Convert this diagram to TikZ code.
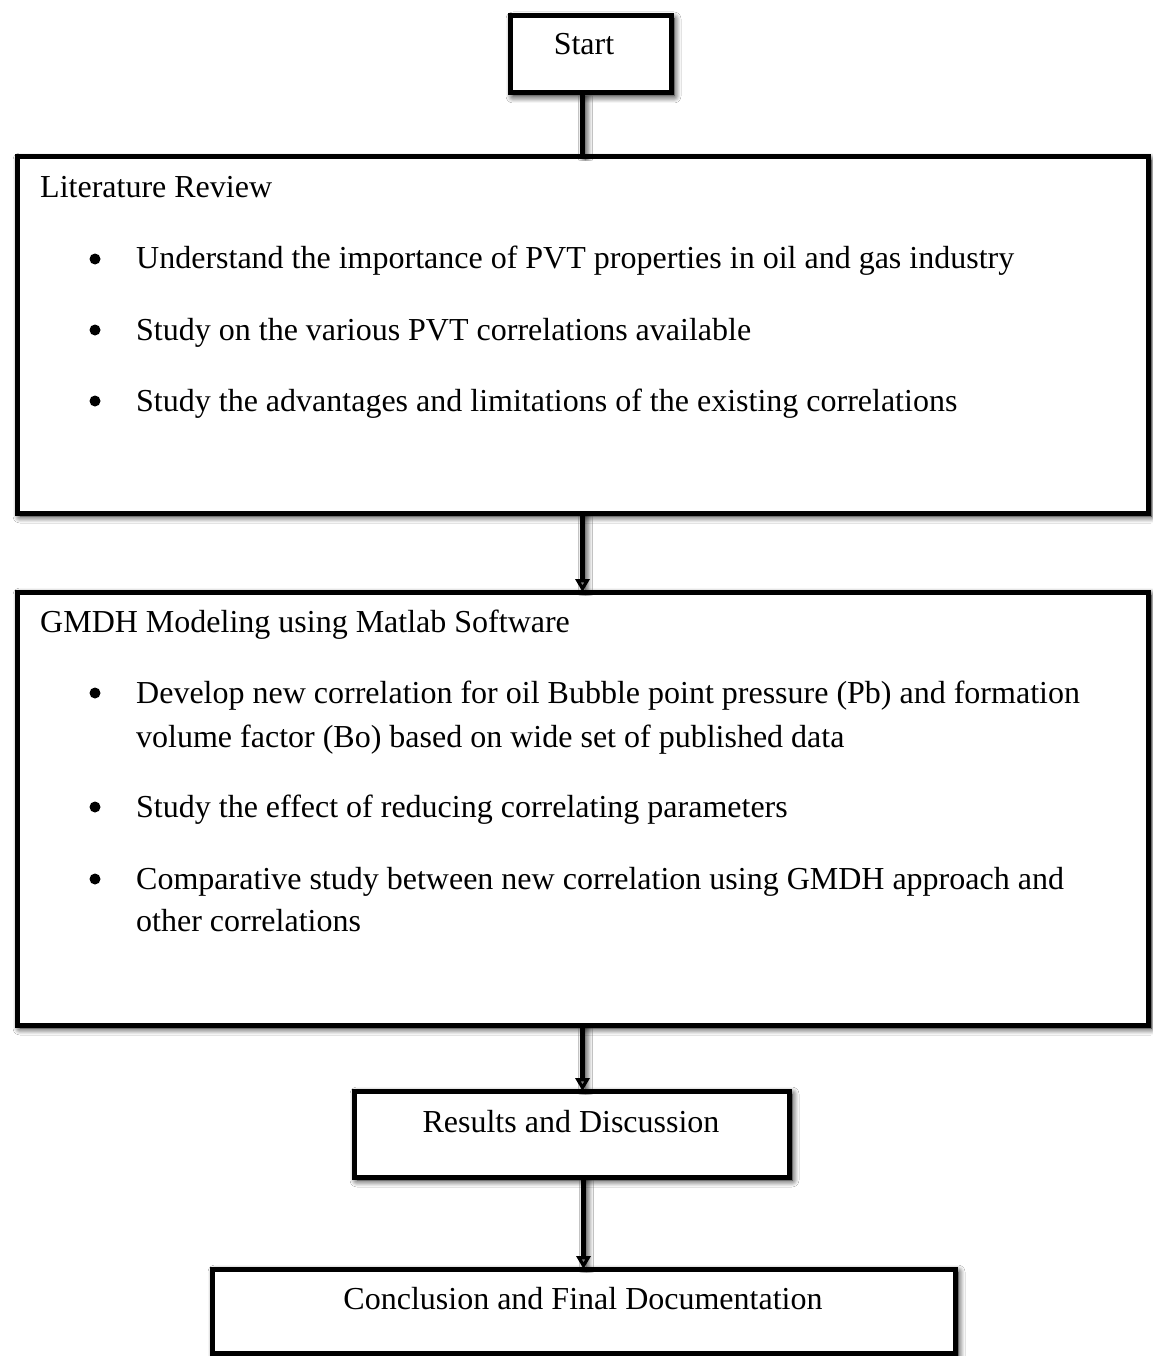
\documentclass[tikz,border=0pt]{standalone}
\usepackage{fontspec}
\setmainfont{Liberation Serif}
\usetikzlibrary{arrows.meta,shadows.blur}
\begin{document}
\begin{tikzpicture}[x=1pt,y=-1pt,
  font=\fontsize{32}{44}\selectfont,
  sh/.style={blur shadow={shadow xshift=3pt,shadow yshift=-3pt,shadow blur radius=7pt,shadow opacity=100,shadow blur steps=8}},
  box/.style={draw=black,line width=5pt,fill=white,rectangle,inner sep=0pt,outer sep=0pt,sh},
  txt/.style={anchor=base west,inner sep=0pt},
  ctxt/.style={anchor=base,inner sep=0pt},
  bul/.style={circle,fill=black,inner sep=0pt,minimum size=11pt},
  conn/.style={line width=5pt,sh},
  arr/.style={conn,-{Triangle[length=13pt,width=14pt]}}
]
\useasboundingbox (0,0) rectangle (1152,1356);
\fill[white] (0,0) rectangle (1152,1356);

% boxes
\node[box,minimum width=161pt,minimum height=77pt] (start) at (590.5,54.5) {};
\node[box,minimum width=1131pt,minimum height=356pt] (lit) at (582.5,335) {};
\node[box,minimum width=1131pt,minimum height=433pt] (gmdh) at (582.5,808.5) {};
\node[box,minimum width=435pt,minimum height=86pt] (res) at (571.5,1134) {};
\node[box,minimum width=743pt,minimum height=84pt] (conc) at (583.5,1311) {};

% connectors
\draw[conn] (start.south -| lit.north) -- (lit.north);
\draw[arr] (lit.south) -- (gmdh.north);
\draw[arr] (gmdh.south) -- (gmdh.south |- res.north);
\draw[arr] (res.south -| conc.north) -- (conc.north);

% texts
\node[ctxt] (tstart) at (584,55) {Start};
\node[txt] (tlit) at (40,198) {Literature Review};
\node[bul] (b1) at (95,259) {};
\node[txt] (l1) at (136,269) {Understand the importance of PVT properties in oil and gas industry};
\node[bul] (b2) at (95,330) {};
\node[txt] (l2) at (136,340) {Study on the various PVT correlations available};
\node[bul] (b3) at (95,401) {};
\node[txt] (l3) at (136,411) {Study the advantages and limitations of the existing correlations};

\node[txt] (tgmdh) at (40,632) {GMDH Modeling using Matlab Software};
\node[bul] (b4) at (95,693) {};
\node[txt] (l4a) at (136,703) {Develop new correlation for oil Bubble point pressure (Pb) and formation};
\node[txt] (l4b) at (136,747) {volume factor (Bo) based on wide set of published data};
\node[bul] (b5) at (95,807) {};
\node[txt] (l5) at (136,817) {Study the effect of reducing correlating parameters};
\node[bul] (b6) at (95,879) {};
\node[txt] (l6a) at (136,889) {Comparative study between new correlation using GMDH approach and};
\node[txt] (l6b) at (136,931) {other correlations};

\node[ctxt] (tres) at (571,1132) {Results and Discussion};
\node[ctxt] (tconc) at (583,1309) {Conclusion and Final Documentation};
\end{tikzpicture}
\end{document}
